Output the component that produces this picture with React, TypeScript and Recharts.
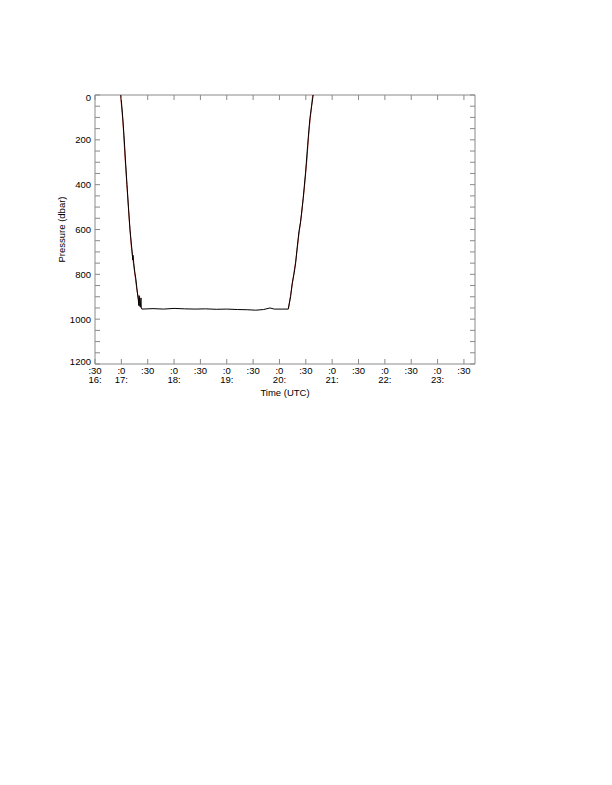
import React from 'react';
import { LineChart, Line, XAxis, YAxis, ReferenceArea } from 'recharts';

// black trace: time (decimal hours UTC) and pressure (dbar)
const BLACK_TIME = [
  16.99, 17.02, 17.05, 17.078, 17.107, 17.135, 17.164, 17.19, 17.205, 17.215, 17.222, 17.235,
  17.255, 17.275, 17.298, 17.32, 17.333, 17.338, 17.35, 17.36, 17.372, 17.378, 17.39,
  17.6, 17.8, 18.0, 18.2, 18.4, 18.6, 18.8, 19.0, 19.2, 19.4, 19.55, 19.7, 19.82, 19.9, 20.05, 20.166,
  20.211, 20.242, 20.28, 20.306, 20.331, 20.369, 20.401, 20.45, 20.496, 20.534, 20.577, 20.64,
];
const BLACK_PRES = [
  0, 80, 180, 290, 400, 500, 600, 665, 700, 735, 715, 750,
  790, 820, 870, 910, 940, 895, 930, 945, 905, 950, 955,
  953, 955, 952, 954, 955, 954, 956, 955, 957, 958, 960, 957, 950, 955, 955, 955,
  900, 840, 793, 750, 692, 610, 566, 461, 344, 225, 105, 0,
];

// red trace (only the descent and ascent profiles, gap in between)
const RED_TIME = [
  16.985, 17.03, 17.07, 17.11, 17.15, 17.19, 17.24, 17.29, 17.33, 17.36,
  18.8,
  20.17, 20.22, 20.27, 20.31, 20.37, 20.42, 20.47, 20.52, 20.56, 20.63,
];
const RED_PRES = [
  0, 120, 280, 420, 560, 680, 770, 860, 920, 948,
  null,
  955, 880, 800, 740, 620, 530, 420, 290, 160, 0,
];

const X_TICKS = [16.5, 17, 17.5, 18, 18.5, 19, 19.5, 20, 20.5, 21, 21.5, 22, 22.5, 23, 23.5];
const X_MIN_LABELS = [':30', ':0', ':30', ':0', ':30', ':0', ':30', ':0', ':30', ':0', ':30', ':0', ':30', ':0', ':30'];
const X_HOUR_LABELS = ['16:', '17:', '', '18:', '', '19:', '', '20:', '', '21:', '', '22:', '', '23:', ''];
const X_MAX = 23.71;

const Y_TICKS = [0, 50, 100, 150, 200, 250, 300, 350, 400, 450, 500, 550, 600, 650, 700, 750, 800, 850, 900, 950, 1000, 1050, 1100, 1150, 1200];
const Y_LABELS = [0, 200, 400, 600, 800, 1000, 1200];

const black = BLACK_TIME.map((t, i) => ({ t, p: BLACK_PRES[i] }));
const red = RED_TIME.map((t, i) => ({ t, p: RED_PRES[i] }));

const PLOT_LEFT = 95;
const PLOT_RIGHT = 475;
const PLOT_TOP = 95;
const PLOT_BOTTOM = 364;
const FRAME = '#8a8a8a';
const FONT = '"Liberation Sans", Arial, sans-serif';
const TICK_LEN = 5;

function TimeTick(props: any) {
  const { x, payload } = props;
  const i = X_TICKS.indexOf(payload.value);
  return (
    <g>
      <line x1={x} x2={x} y1={PLOT_BOTTOM} y2={PLOT_BOTTOM - TICK_LEN} stroke={FRAME} />
      <line x1={x} x2={x} y1={PLOT_TOP} y2={PLOT_TOP + TICK_LEN} stroke={FRAME} />
      <text x={x} y={373.5} textAnchor="middle" fontSize={9.5} fontFamily={FONT} fill="#000">
        {X_MIN_LABELS[i]}
      </text>
      <text x={x} y={383} textAnchor="middle" fontSize={9.5} fontFamily={FONT} fill="#000">
        {X_HOUR_LABELS[i]}
      </text>
    </g>
  );
}

function PresTick(props: any) {
  const { y, payload } = props;
  const v = payload.value;
  const labelled = Y_LABELS.includes(v);
  // end labels are nudged inside the frame
  const nudge = v === 0 ? 2 : v === 1200 ? -3 : 0;
  return (
    <g>
      <line x1={PLOT_LEFT} x2={PLOT_LEFT + TICK_LEN} y1={y} y2={y} stroke={FRAME} />
      <line x1={PLOT_RIGHT - TICK_LEN} x2={PLOT_RIGHT} y1={y} y2={y} stroke={FRAME} />
      {labelled && (
        <text x={PLOT_LEFT - 4} y={y + 3.5 + nudge} textAnchor="end" fontSize={9.5} fontFamily={FONT} fill="#000">
          {v}
        </text>
      )}
    </g>
  );
}

export default function App() {
  return (
    <div style={{ position: 'absolute', left: 0, top: 0, width: 612, height: 420 }}>
      <LineChart
        width={612}
        height={420}
        margin={{ top: PLOT_TOP, right: 612 - PLOT_RIGHT, bottom: 420 - PLOT_BOTTOM - 30, left: PLOT_LEFT - 40 }}
      >
        <XAxis
          dataKey="t"
          type="number"
          domain={[16.5, X_MAX]}
          ticks={X_TICKS}
          interval={0}
          axisLine={false}
          tickLine={false}
          height={30}
          tick={<TimeTick />}
          label={{
            content: (p: any) => (
              <text
                x={p.viewBox.x + p.viewBox.width / 2}
                y={PLOT_BOTTOM + 32}
                textAnchor="middle"
                fontSize={9.5}
                fontFamily={FONT}
                fill="#000"
              >
                Time (UTC)
              </text>
            ),
          }}
        />
        <YAxis
          dataKey="p"
          type="number"
          reversed
          domain={[0, 1200]}
          ticks={Y_TICKS}
          interval={0}
          axisLine={false}
          tickLine={false}
          width={40}
          tick={<PresTick />}
          label={{
            content: () => (
              <text
                x={65}
                y={(PLOT_TOP + PLOT_BOTTOM) / 2}
                textAnchor="middle"
                fontSize={9.5}
                fontFamily={FONT}
                fill="#000"
                transform={`rotate(-90 65 ${(PLOT_TOP + PLOT_BOTTOM) / 2})`}
              >
                Pressure (dbar)
              </text>
            ),
          }}
        />
        <ReferenceArea
          x1={16.5}
          x2={X_MAX}
          y1={0}
          y2={1200}
          fill="none"
          fillOpacity={0}
          stroke={FRAME}
          strokeOpacity={1}
          ifOverflow="visible"
        />
        <Line data={red} dataKey="p" type="linear" stroke="#c0392b" strokeWidth={1} dot={false} connectNulls={false} isAnimationActive={false} />
        <Line data={black} dataKey="p" type="linear" stroke="#000" strokeWidth={1} dot={false} isAnimationActive={false} />
      </LineChart>
    </div>
  );
}
